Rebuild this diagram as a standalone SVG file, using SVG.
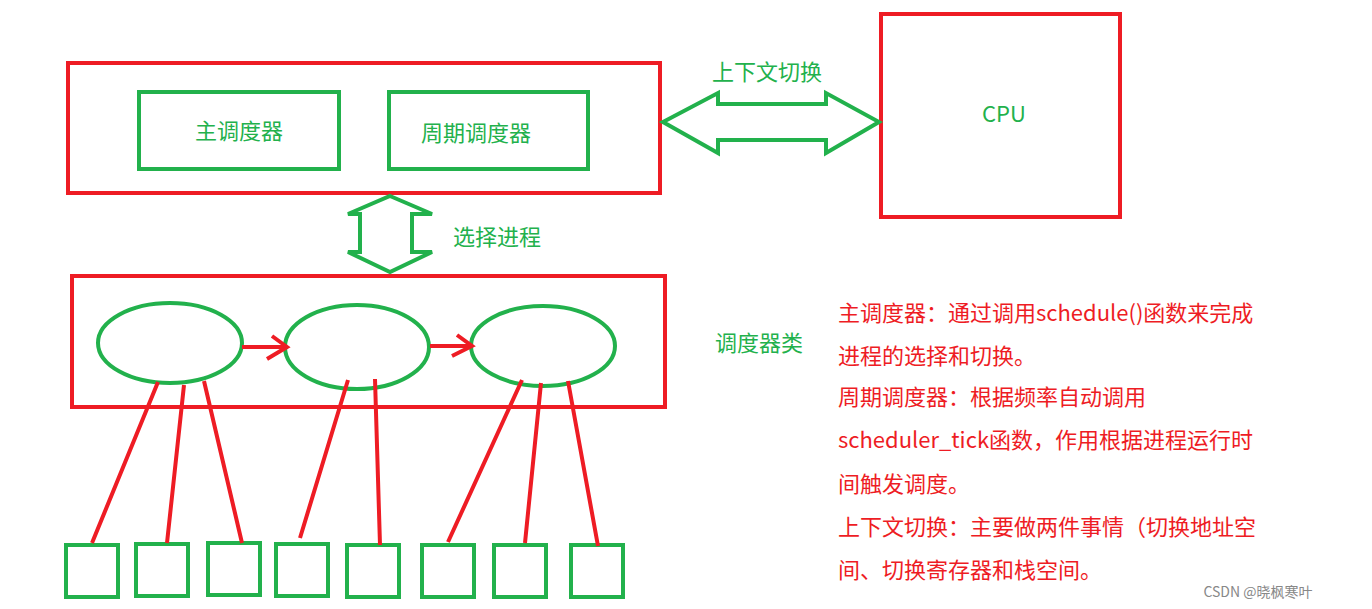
<svg xmlns="http://www.w3.org/2000/svg" width="1372" height="609" viewBox="0 0 1372 609">
<style>
.r{fill:none;stroke:#ee1c24;stroke-width:4}
.g{fill:none;stroke:#22b14c;stroke-width:4}
.gw{fill:#fff;stroke:#22b14c;stroke-width:4}
.rl{stroke:#ee1c24;stroke-width:4;fill:none}
.tg{fill:#22b14c;font-family:"Noto Sans CJK SC","Microsoft YaHei",sans-serif;font-size:22px}
.tr{fill:#ee1c24;font-family:"Noto Sans CJK SC",sans-serif;font-size:22px}
</style>
<rect width="1372" height="609" fill="#fff"/>
<g id="sched"><rect class="r" x="68" y="63" width="592" height="130"/></g>
<g id="main"><rect class="g" x="139" y="92" width="200" height="77"/><text class="tg" x="239" y="139" text-anchor="middle">主调度器</text></g>
<g id="periodic"><rect class="g" x="389" y="92" width="199" height="77"/><text class="tg" x="476" y="141" text-anchor="middle">周期调度器</text></g>
<g id="cpu"><rect class="r" x="881" y="14" width="239" height="203"/><text class="tg" x="1004" y="122" text-anchor="middle" font-family="Liberation Sans">CPU</text></g>
<g id="classes"><rect class="r" x="72" y="276" width="593" height="131"/></g>
<g id="e1"><ellipse class="g" cx="170" cy="343" rx="72" ry="40"/></g>
<g id="e2"><ellipse class="g" cx="357" cy="347" rx="72" ry="42"/></g>
<g id="e3"><ellipse class="g" cx="543" cy="346" rx="72" ry="40"/></g>
<g id="squares" class="g">
<rect x="66" y="545" width="52" height="52"/><rect x="136" y="544" width="52" height="52"/><rect x="208" y="543" width="52" height="52"/><rect x="276" y="544" width="52" height="52"/><rect x="347" y="545" width="52" height="52"/><rect x="422" y="545" width="52" height="52"/><rect x="494" y="545" width="52" height="52"/><rect x="571" y="545" width="52" height="52"/>
</g>
<g id="connectors">
<path class="g" d="M663,122 L718,93 V104 H826 V93 L879,122 L826,153 V140 H718 V153 Z"/>
<path class="g" d="M390,196 L432,214 H412 V252 H432 L390,272 L348,252 H360 V214 H348 Z"/>
<path class="rl" d="M242,347 H287 M272,336 L287,347 L267,359 M430,346 H472 M457,335 L472,346 L452,356"/>
<path class="rl" d="M158,382 L92,543 M184,385 L167,543 M204,381 L242,543 M348,380 L300,538 M375,379 L380,545 M522,380 L448,542 M541,383 L525,543 M568,381 L598,546"/>
</g>
<text class="tg" x="712" y="80">上下文切换</text>
<text class="tg" x="453" y="245">选择进程</text>
<text class="tg" x="715" y="351">调度器类</text>
<g class="tr">
<text x="838" y="321">主调度器：通过调用schedule()函数来完成</text>
<text x="838" y="364">进程的选择和切换。</text>
<text x="838" y="405">周期调度器：根据频率自动调用</text>
<text x="838" y="448">scheduler_tick函数，作用根据进程运行时</text>
<text x="838" y="492">间触发调度。</text>
<text x="838" y="535">上下文切换：主要做两件事情（切换地址空</text>
<text x="838" y="578">间、切换寄存器和栈空间。</text>
</g>
<text x="1258" y="597" font-family="Noto Sans CJK SC,sans-serif" font-size="14" fill="#888" text-anchor="middle">CSDN @晓枫寒叶</text>
</svg>
